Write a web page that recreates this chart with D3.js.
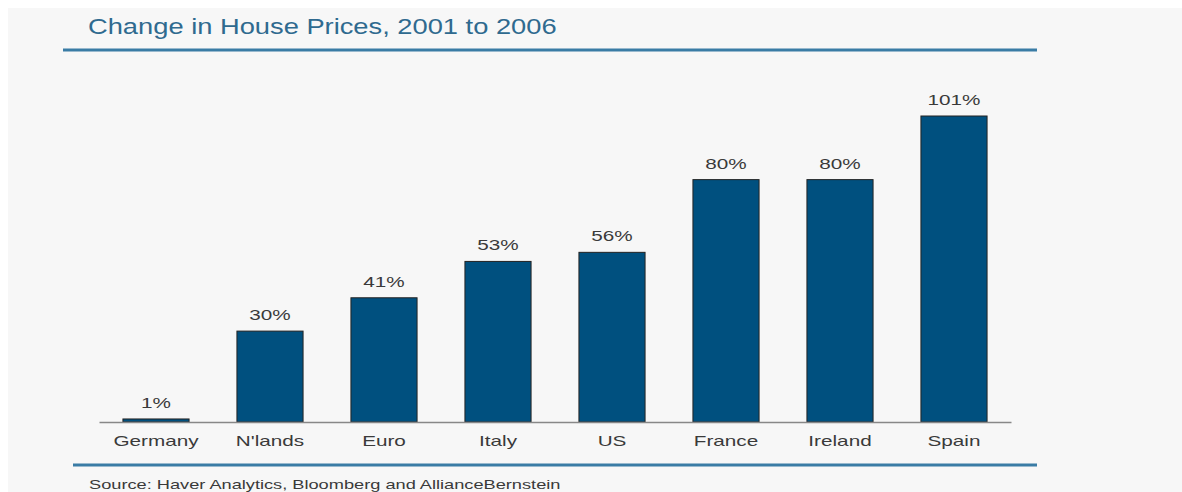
<!DOCTYPE html>
<html>
<head>
<meta charset="utf-8">
<script src="https://cdn.jsdelivr.net/npm/d3@7"></script>
<style>
  body { margin: 0; background: #fff; }
  svg { display: block; font-family: "Liberation Sans", Arial, sans-serif; }
</style>
</head>
<body>
<div id="chart"></div>
<script>
const countries = ["Germany", "N'lands", "Euro", "Italy", "US", "France", "Ireland", "Spain"]
const changes = [1, 30, 41, 53, 56, 80, 80, 101]

const W = 1182, H = 492

// the original text is rendered wide, so stretch each label horizontally
function stretch(sel, k) {
    sel.each(function() {
        const len = this.getComputedTextLength()
        d3.select(this)
            .attr("textLength", len * k)
            .attr("lengthAdjust", "spacingAndGlyphs")
    })
}

const svg = d3.select("#chart")
    .append("svg")
    .attr("width", W)
    .attr("height", H)

// light grey panel
svg.append("rect")
    .attr("x", 8).attr("y", 8)
    .attr("width", W - 8).attr("height", H - 8)
    .style("fill", "#f7f7f7")

svg.append("text")
    .attr("x", 88)
    .attr("y", 34)
    .text("Change in House Prices, 2001 to 2006")
    .attr("font-size", "22px")
    .attr("fill", "#2f6a8f")
    .call(stretch, 1.24)

svg.append("line")
    .attr("x1", 63).attr("x2", 1037)
    .attr("y1", 50).attr("y2", 50)
    .style("stroke", "#3a7ca5")
    .style("stroke-width", 3)

const x = d3.scaleBand()
    .domain(countries)
    .range([99, 1011])
    .paddingInner(0.42)
    .paddingOuter(0.21)

const y = d3.scaleLinear()
    .domain([0, 101])
    .range([422, 116])

const data = countries.map((c, i) => ({name: c, value: changes[i]}))

svg.selectAll("rect.bar")
    .data(data)
    .join("rect")
    .attr("class", "bar")
    .attr("x", d => x(d.name))
    .attr("y", d => y(d.value))
    .attr("width", x.bandwidth())
    .attr("height", d => y(0) - y(d.value))
    .style("fill", "#00507f")
    .style("stroke", "#222")
    .style("stroke-width", 1)

svg.selectAll("text.val")
    .data(data)
    .join("text")
    .attr("class", "val")
    .attr("x", d => x(d.name) + x.bandwidth() / 2)
    .attr("y", d => y(d.value) - 11)
    .text(d => d.value + "%")
    .attr("font-size", "15px")
    .attr("fill", "#3a3a3a")
    .style("text-anchor", "middle")
    .call(stretch, 1.38)

// x axis
const xAxis = svg.append("g")
    .attr("transform", `translate(0, ${y(0)})`)
    .call(d3.axisBottom(x).tickSize(0).tickPadding(13))
xAxis.select(".domain").style("stroke", "#888").style("stroke-width", 1.5)
xAxis.selectAll("text")
    .attr("font-size", "15px")
    .attr("fill", "#3a3a3a")
    .style("font-family", "\"Liberation Sans\", Arial, sans-serif")
    .call(stretch, 1.38)

svg.append("line")
    .attr("x1", 73).attr("x2", 1037)
    .attr("y1", 465).attr("y2", 465)
    .style("stroke", "#3a7ca5")
    .style("stroke-width", 3)

svg.append("text")
    .attr("x", 89)
    .attr("y", 489)
    .text("Source: Haver Analytics, Bloomberg and AllianceBernstein")
    .attr("font-size", "13px")
    .attr("fill", "#3a3a3a")
    .call(stretch, 1.4)
</script>
</body>
</html>
